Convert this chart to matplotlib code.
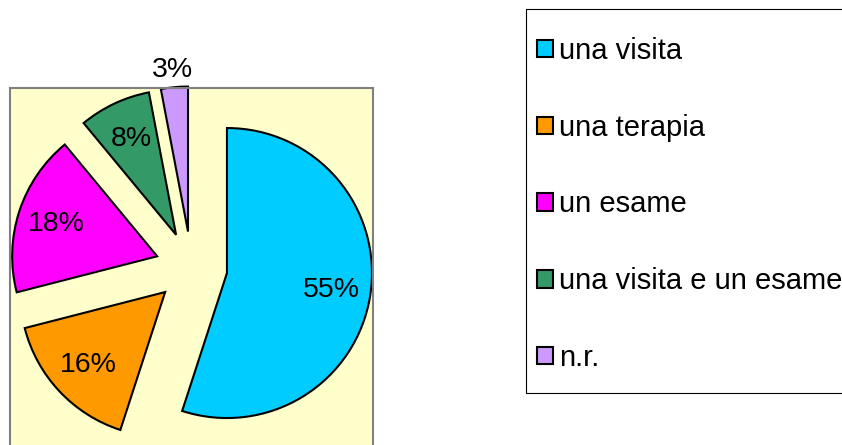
import matplotlib.pyplot as plt
from matplotlib.patches import Rectangle

plt.rcParams['font.family'] = ['Liberation Sans', 'DejaVu Sans']

labels = ['una visita', 'una terapia', 'un esame', 'una visita e un esame', 'n.r.']
values = [55, 16, 18, 8, 3]
colors = ['#00CCFF', '#FF9900', '#FF00FF', '#339966', '#CC99FF']

W, H = 842, 445
fig = plt.figure(figsize=(W / 100, H / 100), dpi=100)

# plot area (pixel units, bottom runs off the figure like in the original)
ax = fig.add_axes([10 / W, -20 / H, 363 / W, 377 / H])
ax.set_facecolor('#FFFFCC')
ax.set_xticks([])
ax.set_yticks([])
for sp in ax.spines.values():
    sp.set_color('#808080')
    sp.set_linewidth(1.5)

r = 145
wedges, texts, autotexts = ax.pie(
    values, colors=colors, startangle=90, counterclock=False,
    radius=r, center=(181.4, 197.6), explode=[36] * len(values),
    autopct='%1.0f%%', pctdistance=0.73,
    wedgeprops=dict(edgecolor='black', linewidth=1.5),
    textprops=dict(fontsize=20.5, color='black'), frame=True)
ax.set_xlim(0, 363)
ax.set_ylim(0, 377)
ax.set_aspect('auto')

# the small slice keeps its label outside
w, t = wedges[-1], autotexts[-1]
cx, cy = w.center
tx, ty = t.get_position()
k = 1.12 / 0.73
t.set_position((cx + (tx - cx) * k, cy + (ty - cy) * k))

# legend box
fig.patches.append(Rectangle((526 / W, 1 - 393 / H), 330 / W, 384 / H,
                             transform=fig.transFigure, facecolor='white',
                             edgecolor='black', linewidth=0.8, zorder=0))
leg = fig.legend(wedges, labels, loc='upper left',
                 bbox_to_anchor=(537 / W, 1 - 37 / H), borderaxespad=0,
                 fontsize=21, handlelength=0.55, handleheight=0.55,
                 handletextpad=0.2, labelspacing=1.67, borderpad=0,
                 frameon=False)
for h in leg.legend_handles:
    h.set_linewidth(1.5)

fig.savefig('out.png', dpi=100)
